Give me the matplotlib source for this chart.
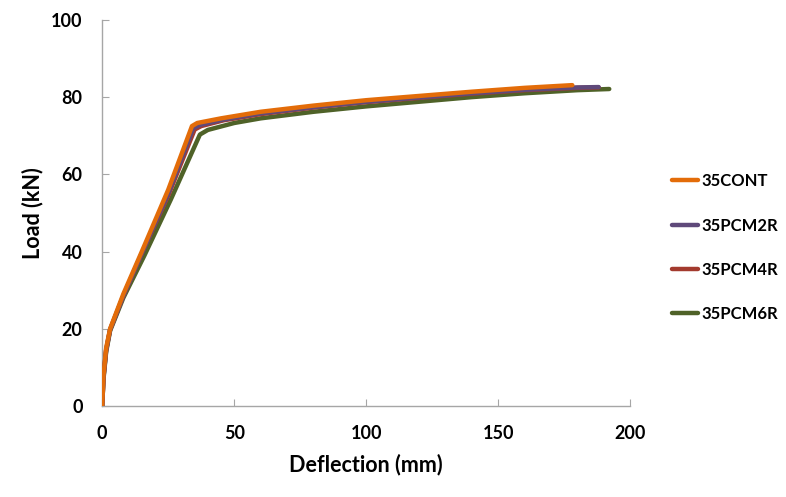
import numpy as np
import matplotlib.pyplot as plt

plt.rcParams['font.family'] = ['Lato', 'DejaVu Sans']

labels = ['35CONT', '35PCM2R', '35PCM4R', '35PCM6R']
colors = ['#E36C09', '#5F497A', '#A33A2E', '#4F6228']

x_cont = [0, 0.5, 1.5, 3, 8, 15, 25, 34, 36, 45, 60, 80, 100, 120, 140, 160, 178]
y_cont = [0, 8, 15, 20, 29, 40, 56, 72.5, 73.3, 74.5, 76.2, 77.8, 79.2, 80.3, 81.4, 82.4, 83.1]

x_2r = [0, 0.5, 1.5, 3, 8, 15, 25, 34.5, 37, 46, 60, 80, 100, 120, 140, 160, 180, 188]
y_2r = [0, 7.5, 14.5, 19.8, 28.5, 39.5, 55, 72, 72.8, 74.2, 75.8, 77.4, 78.8, 79.9, 81, 81.9, 82.5, 82.6]

x_4r = [0, 0.5, 1.5, 3, 8, 15, 25, 35, 37.5, 46, 60, 80, 100, 120, 140, 160, 180, 188]
y_4r = [0, 7.5, 14.5, 19.8, 28.5, 39.5, 54.5, 71.6, 72.5, 74, 75.6, 77.3, 78.7, 79.8, 80.9, 81.8, 82.4, 82.5]

x_6r = [0, 0.5, 1.5, 3, 8, 16, 26, 37, 40, 50, 60, 80, 100, 120, 140, 160, 180, 192]
y_6r = [0, 7, 14, 19.5, 28, 39, 53.5, 70.3, 71.5, 73.3, 74.5, 76.2, 77.6, 78.8, 80, 81, 81.8, 82.1]

series = [(x_cont, y_cont), (x_2r, y_2r), (x_4r, y_4r), (x_6r, y_6r)]

fig = plt.figure(figsize=(7.86, 4.97), dpi=100)
ax = fig.add_axes([0.130, 0.183, 0.672, 0.777])

for i, (xs, ys) in enumerate(series):
    ax.plot(xs, ys, color=colors[i], lw=3.2, label=labels[i],
            zorder=10 - i, solid_capstyle='round')

ax.set_xlim(0, 200)
ax.set_ylim(0, 100)
ax.set_xticks(np.arange(0, 201, 50))
ax.set_yticks(np.arange(0, 101, 20))

for s in ['top', 'right']:
    ax.spines[s].set_visible(False)
for s in ['left', 'bottom']:
    ax.spines[s].set_color('#A6A6A6')
    ax.spines[s].set_linewidth(1)

ax.tick_params(direction='in', length=5, color='#A6A6A6', labelsize=13)
ax.tick_params(axis='x', pad=14)
ax.tick_params(axis='y', pad=14)
for lab in ax.get_xticklabels() + ax.get_yticklabels():
    lab.set_fontweight('bold')

ax.set_xlabel('Deflection (mm)', fontsize=15.5, fontweight='bold', labelpad=8)
ax.set_ylabel('Load (kN)', fontsize=15.5, fontweight='bold', labelpad=6)

leg = ax.legend(loc='center left', bbox_to_anchor=(1.05, 0.41), frameon=False,
                handlelength=1.6, handletextpad=0.2, labelspacing=1.7,
                prop={'weight': 'bold', 'size': 12})

fig.savefig('out.png', dpi=100)
